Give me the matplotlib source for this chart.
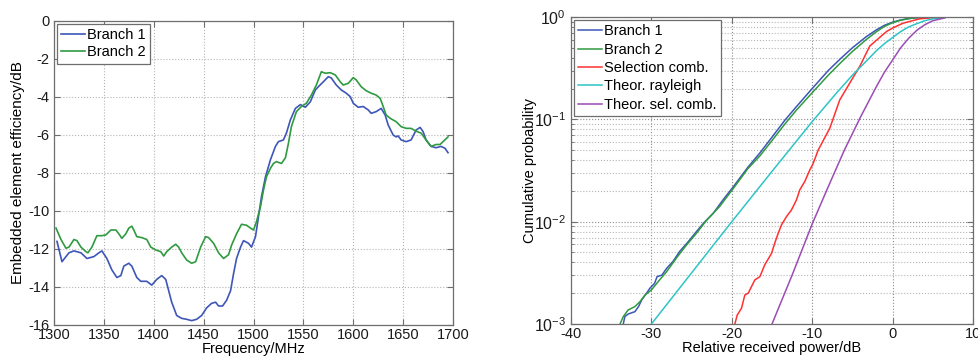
import matplotlib
matplotlib.use("Agg")
import matplotlib.pyplot as plt
import numpy as np
from matplotlib.ticker import LogLocator, NullFormatter

plt.rcParams['font.family'] = ['Liberation Sans', 'DejaVu Sans']
plt.rcParams['mathtext.fontset'] = 'custom'
plt.rcParams['mathtext.rm'] = 'Liberation Sans'
plt.rcParams['axes.unicode_minus'] = False
plt.rcParams['font.size'] = 10

# ---- Embedded element efficiency versus frequency ----
freq_b1 = [1303, 1308, 1315, 1320, 1327, 1333, 1340, 1345, 1348, 1353, 1358, 1363,
           1367, 1370, 1375, 1378, 1383, 1387, 1393, 1398, 1403, 1408, 1412, 1415,
           1418, 1423, 1428, 1433, 1438, 1443, 1448, 1453, 1458, 1462, 1465, 1469,
           1473, 1477, 1480, 1483, 1487, 1490, 1495, 1498, 1502, 1505, 1508, 1512,
           1517, 1522, 1525, 1530, 1533, 1537, 1542, 1547, 1552, 1557, 1562, 1565,
           1570, 1575, 1578, 1583, 1588, 1593, 1597, 1600, 1605, 1610, 1615, 1618,
           1623, 1628, 1632, 1635, 1640, 1643, 1645, 1648, 1653, 1658, 1663, 1667,
           1670, 1673, 1678, 1683, 1688, 1692, 1695]
eff_b1 = [-11.6, -12.67, -12.2, -12.1, -12.2, -12.5, -12.4, -12.2, -12.1, -12.5, -13.1, -13.5,
          -13.4, -12.9, -12.75, -12.9, -13.5, -13.7, -13.7, -13.9, -13.6, -13.4, -13.6, -14.2,
          -14.8, -15.5, -15.65, -15.7, -15.77, -15.7, -15.5, -15.1, -14.86, -14.8, -15.0, -15.0,
          -14.7, -14.2, -13.3, -12.5, -11.9, -11.56, -11.7, -11.9, -11.35, -10.3, -9.25, -8.2,
          -7.3, -6.6, -6.35, -6.26, -5.9, -5.2, -4.6, -4.4, -4.54, -4.25, -3.63, -3.46,
          -3.2, -2.93, -3.0, -3.37, -3.63, -3.8, -3.98, -4.33, -4.54, -4.5, -4.68, -4.86,
          -4.77, -4.6, -4.95, -5.47, -6.0, -6.1, -6.05, -6.26, -6.35, -6.26, -5.74, -5.6,
          -5.82, -6.26, -6.6, -6.67, -6.6, -6.7, -6.93]

freq_b2 = [1302, 1307, 1312, 1315, 1320, 1323, 1327, 1332, 1334, 1338, 1343, 1348,
           1352, 1357, 1362, 1365, 1368, 1372, 1375, 1378, 1380, 1383, 1388, 1393,
           1397, 1402, 1407, 1410, 1413, 1418, 1422, 1425, 1428, 1433, 1438, 1442,
           1447, 1452, 1455, 1460, 1465, 1470, 1475, 1478, 1483, 1488, 1493, 1497,
           1500, 1503, 1507, 1510, 1513, 1517, 1520, 1523, 1528, 1532, 1535, 1538,
           1543, 1548, 1553, 1558, 1563, 1568, 1572, 1577, 1582, 1587, 1590, 1595,
           1600, 1603, 1608, 1613, 1618, 1623, 1627, 1630, 1633, 1637, 1643, 1648,
           1653, 1658, 1663, 1668, 1673, 1678, 1683, 1687, 1690, 1695]
eff_b2 = [-10.9, -11.5, -11.96, -11.9, -11.5, -11.56, -11.9, -12.14, -12.2, -11.9, -11.3, -11.3,
          -11.26, -11.0, -11.0, -11.2, -11.44, -11.2, -10.9, -10.8, -11.0, -11.35, -11.4, -11.5,
          -11.9, -12.05, -12.14, -12.37, -12.14, -11.9, -11.75, -11.9, -12.2, -12.58, -12.75, -12.67,
          -11.9, -11.35, -11.4, -11.7, -12.2, -12.5, -12.3, -11.8, -11.2, -10.7, -10.75, -10.9,
          -11.0, -10.56, -9.77, -8.9, -8.2, -7.75, -7.5, -7.4, -7.5, -7.2, -6.44, -5.56,
          -4.77, -4.5, -4.33, -3.9, -3.37, -2.67, -2.75, -2.72, -2.84, -3.2, -3.37, -3.28,
          -2.98, -3.1, -3.46, -3.67, -3.8, -3.9, -4.07, -4.5, -4.95, -5.12, -5.3, -5.56,
          -5.65, -5.65, -5.8, -5.9, -6.26, -6.6, -6.5, -6.5, -6.35, -6.1]

freq_ticks = [1300, 1350, 1400, 1450, 1500, 1550, 1600, 1650, 1700]
eff_ticks = [0, -2, -4, -6, -8, -10, -12, -14, -16]

# ---- Cumulative distributions of received power ----
pw_b1 = [-33.5, -33.3, -32.9, -32.05, -31.6, -31.2, -30.6, -30.2, -29.6, -29.3, -28.7,
         -28.1, -27.3, -26.5, -25.4, -24.4, -23.5, -22.3, -21.1, -19.8, -18.0, -16.5,
         -15.0, -13.4, -12.0, -10.0, -8.0, -6.5, -5.0, -3.3, -2.0, -1.0, 0.0, 1.0, 2.0,
         3.0, 4.0, 5.0, 6.5]
cdf_b1 = [1.0e-3, 1.18e-3, 1.25e-3, 1.32e-3, 1.48e-3, 1.72e-3, 2.0e-3, 2.23e-3, 2.5e-3,
          2.9e-3, 3.0e-3, 3.5e-3, 4.1e-3, 5.1e-3, 6.4e-3, 8.0e-3, 9.7e-3, 1.21e-2, 1.63e-2,
          2.2e-2, 3.4e-2, 4.7e-2, 6.7e-2, 0.098, 0.132, 0.20, 0.30, 0.39, 0.50, 0.64, 0.75,
          0.83, 0.89, 0.935, 0.965, 0.985, 0.995, 0.999, 1.0]

pw_b2 = [-33.9, -33.5, -32.9, -32.05, -31.4, -30.8, -30.0, -29.15, -28.1, -26.9, -25.8,
         -24.4, -23.1, -21.5, -19.8, -18.0, -16.5, -15.0, -13.4, -12.0, -10.0, -8.0, -6.5,
         -5.0, -3.3, -2.0, -1.0, 0.0, 1.0, 2.0, 3.0, 4.0, 5.0, 6.5]
cdf_b2 = [1.0e-3, 1.18e-3, 1.37e-3, 1.48e-3, 1.66e-3, 1.92e-3, 2.15e-3, 2.6e-3, 3.25e-3,
          4.4e-3, 5.7e-3, 7.7e-3, 1.04e-2, 1.41e-2, 2.12e-2, 3.3e-2, 4.4e-2, 6.2e-2, 0.090,
          0.122, 0.182, 0.27, 0.355, 0.46, 0.60, 0.72, 0.81, 0.88, 0.93, 0.965, 0.985,
          0.995, 0.999, 1.0]

pw_sel = [-19.62, -19.33, -18.79, -18.38, -17.96, -17.13, -16.51, -15.89, -15.06, -14.65,
          -14.23, -13.82, -13.2, -12.58, -11.96, -11.54, -10.92, -10.3, -9.88, -9.26, -7.81,
          -6.57, -5.0, -4.08, -2.84, -0.77, 0.0, 1.3, 3.37, 5.86]
cdf_sel = [1.0e-3, 1.22e-3, 1.43e-3, 1.92e-3, 2.0e-3, 2.7e-3, 2.9e-3, 3.8e-3, 4.9e-3, 6.2e-3,
           7.7e-3, 9.3e-3, 1.12e-2, 1.3e-2, 1.63e-2, 2.05e-2, 2.47e-2, 3.2e-2, 3.7e-2, 5.0e-2,
           8.2e-2, 0.155, 0.25, 0.33, 0.52, 0.72, 0.78, 0.87, 0.96, 1.0]

pw_ray = [-30, -25, -20, -15, -10, -7, -5, -3, -2, -1, 0, 1, 2, 3, 4, 5, 6.5]
cdf_ray = [1.0e-3, 3.16e-3, 1.0e-2, 3.1e-2, 0.095, 0.18, 0.27, 0.39, 0.47, 0.55, 0.63,
           0.72, 0.80, 0.86, 0.92, 0.96, 0.99]

pw_tsel = [-15, -12.5, -10, -8, -6, -4, -2, -1, 0, 1, 2, 3, 4, 5, 6.5]
cdf_tsel = [1.0e-3, 3.0e-3, 9.5e-3, 0.022, 0.05, 0.105, 0.21, 0.29, 0.38, 0.50, 0.62,
            0.74, 0.84, 0.92, 0.98]

pw_ticks = [-40, -30, -20, -10, 0, 10]

c_b1 = '#3d56b8'
c_b2 = '#2f9a40'
c_sel = '#ff3030'
c_ray = '#2ec4c6'
c_tsel = '#9b4cb5'
spine_c = '#6e6e6e'
grid_c = '#b4b4b4'

fig = plt.figure(figsize=(9.79, 3.61), dpi=100)


def style_axes(ax):
    for s in ax.spines.values():
        s.set_color(spine_c)
        s.set_linewidth(0.9)
    ax.tick_params(which='both', direction='in', top=True, right=True,
                   colors=spine_c, labelcolor='#1a1a1a', labelsize=10.5)
    ax.tick_params(which='major', length=4)
    ax.tick_params(which='minor', length=2)


def add_legend(ax, spacing):
    leg = ax.legend(loc='upper left', fontsize=10.5, frameon=True, fancybox=False,
                    edgecolor=spine_c, framealpha=1, handlelength=1.6, handletextpad=0.15,
                    borderpad=0.3, labelspacing=spacing, borderaxespad=0.2)
    leg.get_frame().set_linewidth(0.9)
    return leg


# Left: efficiency
ax1 = fig.add_axes([54 / 979, 36 / 361, 399 / 979, 304 / 361])
ax1.plot(freq_b1, eff_b1, color=c_b1, lw=1.2, label='Branch 1')
ax1.plot(freq_b2, eff_b2, color=c_b2, lw=1.2, label='Branch 2')
ax1.set_xlim(1300, 1700)
ax1.set_ylim(-16, 0)
ax1.set_xticks(freq_ticks)
ax1.set_yticks(eff_ticks)
ax1.grid(True, linestyle=':', color=grid_c, lw=0.8)
style_axes(ax1)
ax1.tick_params(axis='x', pad=2)
ax1.set_xlabel('Frequency/MHz', fontsize=10.5, labelpad=0)
ax1.set_ylabel('Embedded element efficiency/dB', fontsize=11, labelpad=2)
add_legend(ax1, 0.2)

# Right: CDF
ax2 = fig.add_axes([571 / 979, 37 / 361, 402 / 979, 307 / 361])
ax2.semilogy(pw_b1, cdf_b1, color=c_b1, lw=1.1, label='Branch 1')
ax2.semilogy(pw_b2, cdf_b2, color=c_b2, lw=1.1, label='Branch 2')
ax2.semilogy(pw_sel, cdf_sel, color=c_sel, lw=1.1, label='Selection comb.')
ax2.semilogy(pw_ray, cdf_ray, color=c_ray, lw=1.1, label='Theor. rayleigh')
ax2.semilogy(pw_tsel, cdf_tsel, color=c_tsel, lw=1.1, label='Theor. sel. comb.')
ax2.set_xlim(-40, 10)
ax2.set_ylim(1e-3, 1)
ax2.set_xticks(pw_ticks)
ax2.yaxis.set_major_locator(LogLocator(base=10, numticks=10))
ax2.yaxis.set_minor_locator(LogLocator(base=10, subs=np.arange(2, 10), numticks=10))
ax2.yaxis.set_minor_formatter(NullFormatter())
ax2.grid(True, which='major', linestyle=':', color='#8c8c8c', lw=0.8)
ax2.grid(True, which='minor', axis='y', linestyle=':', color=grid_c, lw=0.8)
style_axes(ax2)
ax2.tick_params(axis='y', labelsize=11.5)
ax2.tick_params(axis='x', pad=2)
ax2.set_xlabel('Relative received power/dB', fontsize=10.5, labelpad=0)
ax2.set_ylabel('Cumulative probability', fontsize=10.5, labelpad=-2)
add_legend(ax2, 0.3)

fig.savefig('out.png', dpi=100)
